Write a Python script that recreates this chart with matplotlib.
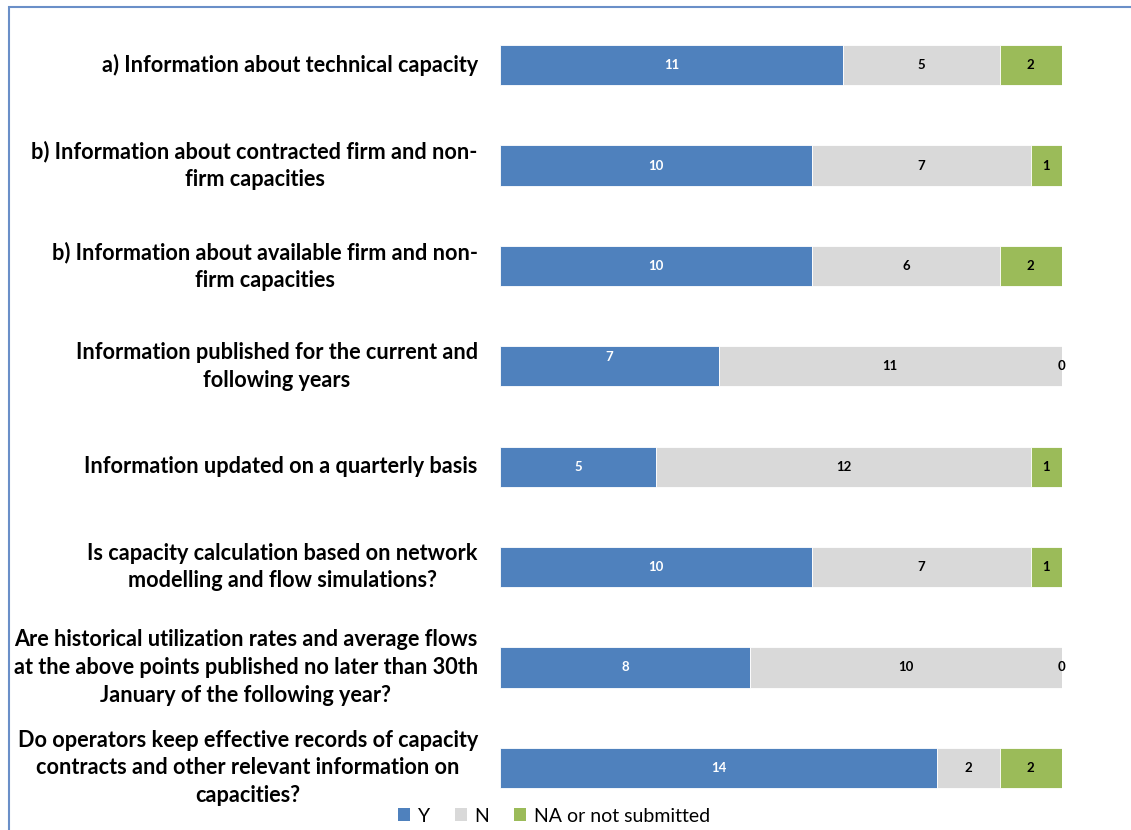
import matplotlib
matplotlib.use("Agg")
import matplotlib.pyplot as plt
from matplotlib.patches import Rectangle, Patch

categories = [
    "a) Information about technical capacity",
    "b) Information about contracted firm and non-\nfirm capacities",
    "b) Information about available firm and non-\nfirm capacities",
    "Information published for the current and\nfollowing years",
    "Information updated on a quarterly basis",
    "Is capacity calculation based on network\nmodelling and flow simulations?",
    "Are historical utilization rates and average flows\nat the above points published no later than 30th\nJanuary of the following year?",
    "Do operators keep effective records of capacity\ncontracts and other relevant information on\ncapacities?",
]
y_vals = [11, 10, 10, 7, 5, 10, 8, 14]
n_vals = [5, 7, 6, 11, 12, 7, 10, 2]
na_vals = [2, 1, 2, 0, 1, 1, 0, 2]
series_names = ["Y", "N", "NA or not submitted"]

colors = ["#4F81BD", "#D9D9D9", "#9BBB59"]
label_colors = ["white", "black", "black"]

plt.rcParams['font.family'] = ['Lato', 'DejaVu Sans']

fig = plt.figure(figsize=(11.31, 8.30), dpi=100)
W, H = 1131, 830
ax = fig.add_axes([500 / W, 1 - 818 / H, 562 / W, 803 / H])

pos = list(range(len(categories)))
left = [0] * len(categories)
for vals, col, lc in zip([y_vals, n_vals, na_vals], colors, label_colors):
    bars = ax.barh(pos, vals, left=left, height=0.4, color=col,
                   edgecolor="white", linewidth=0.6)
    for i, (b, v) in enumerate(zip(bars, vals)):
        cx = left[i] + v / 2
        dy = 0
        if col == colors[0] and i == 3:
            dy = -0.09
        ax.text(cx, i + dy, str(v), ha="center", va="center",
                fontsize=9.5, fontweight="bold", color=lc)
    left = [l + v for l, v in zip(left, vals)]

ax.set_xlim(0, 18)
ax.set_ylim(7.5, -0.5)
ax.set_yticks(pos)
ax.set_yticklabels(categories, fontsize=15.6, fontweight="bold",
                   multialignment="center", linespacing=1.4)
for lab in ax.get_yticklabels():
    lab.set_verticalalignment("center")
ax.tick_params(axis="y", length=0, pad=16)
ax.set_xticks([])
for s in ax.spines.values():
    s.set_visible(False)

handles = [Patch(facecolor=c, edgecolor="none") for c in colors]
fig.legend(handles, series_names, loc="center",
           bbox_to_anchor=(554 / W, 1 - 816 / H), ncol=3, frameon=False,
           fontsize=14, handlelength=0.6, handleheight=0.6,
           handletextpad=0.4, columnspacing=1.3, borderpad=0.1)

fig.patches.append(Rectangle((9 / W, -0.1), 1.2, 1 - 7 / H + 0.1,
                             transform=fig.transFigure, fill=False,
                             edgecolor="#6A8FC8", linewidth=1.5))

fig.savefig("out.png", dpi=100)
